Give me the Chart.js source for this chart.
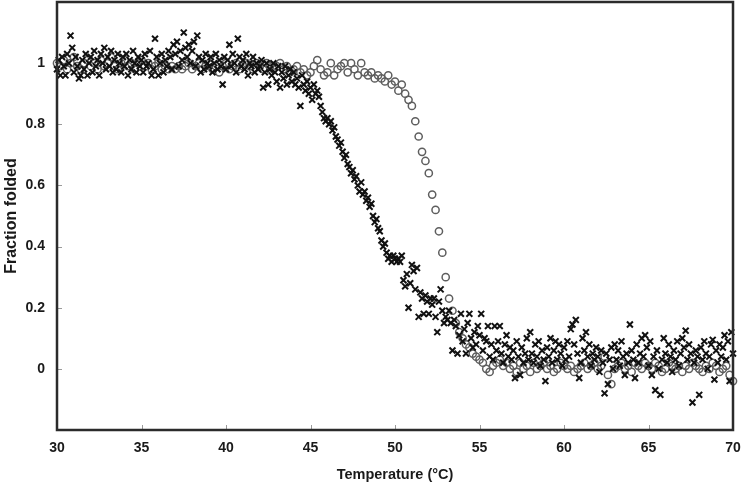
<!DOCTYPE html>
<html><head><meta charset="utf-8">
<script src="https://cdn.jsdelivr.net/npm/chart.js@4.4.1/dist/chart.umd.min.js"></script>
<style>html,body{margin:0;padding:0;background:#fff}canvas{display:block}</style>
</head><body>
<canvas id="c" width="742" height="482"></canvas>
<script>
const xTickValues = [30,35,40,45,50,55,60,65,70];
const yTickValues = [0,0.2,0.4,0.6,0.8,1];

const circleTemps = [
30,30.2,30.4,30.6,30.8,31,31.2,31.4,31.6,31.8,
32,32.2,32.4,32.6,32.8,33,33.2,33.4,33.6,33.8,
34,34.2,34.4,34.6,34.8,35,35.2,35.4,35.6,35.8,
36,36.2,36.4,36.6,36.8,37,37.2,37.4,37.6,37.8,
38,38.2,38.4,38.6,38.8,39,39.2,39.4,39.6,39.8,
40,40.2,40.4,40.6,40.8,41,41.2,41.4,41.6,41.8,
42,42.2,42.4,42.6,42.8,43,43.2,43.4,43.6,43.8,
44,44.2,44.4,44.6,44.8,45,45.2,45.4,45.6,45.8,
46,46.2,46.4,46.6,46.8,47,47.2,47.4,47.6,47.8,
48,48.2,48.4,48.6,48.8,49,49.2,49.4,49.6,49.8,
50,50.2,50.4,50.6,50.8,51,51.2,51.4,51.6,51.8,
52,52.2,52.4,52.6,52.8,53,53.2,53.4,53.6,53.8,
54,54.2,54.4,54.6,54.8,55,55.2,55.4,55.6,55.8,
56,56.2,56.4,56.6,56.8,57,57.2,57.4,57.6,57.8,
58,58.2,58.4,58.6,58.8,59,59.2,59.4,59.6,59.8,
60,60.2,60.4,60.6,60.8,61,61.2,61.4,61.6,61.8,
62,62.2,62.4,62.6,62.8,63,63.2,63.4,63.6,63.8,
64,64.2,64.4,64.6,64.8,65,65.2,65.4,65.6,65.8,
66,66.2,66.4,66.6,66.8,67,67.2,67.4,67.6,67.8,
68,68.2,68.4,68.6,68.8,69,69.2,69.4,69.6,69.8,
70];

const circleFolded = [
1.00,0.99,1.01,0.98,1.00,1.02,0.99,0.98,1.00,1.01,
0.99,1.00,0.98,1.01,0.99,1.00,1.02,0.99,0.98,1.00,
1.01,0.99,1.00,0.98,1.00,1.01,0.99,1.00,0.98,0.99,
1.00,0.98,0.99,0.98,0.99,0.98,0.99,0.98,0.99,1.00,
0.98,0.99,1.00,0.98,0.99,1.00,0.98,0.99,0.97,0.99,
1.00,0.98,0.99,1.00,0.98,0.99,1.00,0.99,0.98,1.00,
0.99,0.98,1.00,0.99,0.98,0.99,1.00,0.98,0.99,0.97,
0.98,0.99,0.97,0.98,0.96,0.97,0.99,1.01,0.98,0.96,
0.97,1.00,0.96,0.98,0.99,1.00,0.97,1.00,0.98,0.96,
1.00,0.97,0.96,0.97,0.95,0.96,0.95,0.94,0.96,0.93,
0.94,0.91,0.93,0.90,0.88,0.86,0.81,0.76,0.71,0.68,
0.64,0.57,0.52,0.45,0.38,0.30,0.23,0.19,0.15,0.12,
0.10,0.08,0.07,0.05,0.04,0.03,0.02,0.00,-0.01,0.01,
0.02,0.03,0.01,0.02,0.00,0.01,-0.01,0.02,0.00,0.01,
-0.01,0.02,0.00,0.01,0.02,0.00,0.01,-0.01,0.00,0.02,
0.01,0.00,0.01,-0.01,0.00,0.01,0.02,0.00,0.01,0.02,
0.00,0.01,0.04,-0.02,-0.05,0.00,0.01,0.02,0.00,0.01,
-0.01,0.02,0.01,0.00,0.02,0.01,0.00,0.02,0.01,-0.01,
0.00,0.02,0.01,0.00,0.01,-0.01,0.01,0.00,0.02,0.01,
0.00,-0.01,0.01,0.00,0.02,0.01,-0.01,0.00,0.01,-0.02,
-0.04];

const crossTemps = [
30,30.1,30.2,30.3,30.4,30.5,30.6,30.7,30.8,30.9,
31,31.1,31.2,31.3,31.4,31.5,31.6,31.7,31.8,31.9,
32,32.1,32.2,32.3,32.4,32.5,32.6,32.7,32.8,32.9,
33,33.1,33.2,33.3,33.4,33.5,33.6,33.7,33.8,33.9,
34,34.1,34.2,34.3,34.4,34.5,34.6,34.7,34.8,34.9,
35,35.1,35.2,35.3,35.4,35.5,35.6,35.7,35.8,35.9,
36,36.1,36.2,36.3,36.4,36.5,36.6,36.7,36.8,36.9,
37,37.1,37.2,37.3,37.4,37.5,37.6,37.7,37.8,37.9,
38,38.1,38.2,38.3,38.4,38.5,38.6,38.7,38.8,38.9,
39,39.1,39.2,39.3,39.4,39.5,39.6,39.7,39.8,39.9,
40,40.1,40.2,40.3,40.4,40.5,40.6,40.7,40.8,40.9,
41,41.1,41.2,41.3,41.4,41.5,41.6,41.7,41.8,41.9,
42,42.1,42.2,42.3,42.4,42.5,42.6,42.7,42.8,42.9,
43,43.1,43.2,43.3,43.4,43.5,43.6,43.7,43.8,43.9,
44,44.1,44.2,44.3,44.4,44.5,44.6,44.7,44.8,44.9,
45,45.1,45.2,45.3,45.4,45.5,45.6,45.7,45.8,45.9,
46,46.1,46.2,46.3,46.4,46.5,46.6,46.7,46.8,46.9,
47,47.1,47.2,47.3,47.4,47.5,47.6,47.7,47.8,47.9,
48,48.1,48.2,48.3,48.4,48.5,48.6,48.7,48.8,48.9,
49,49.1,49.2,49.3,49.4,49.5,49.6,49.7,49.8,49.9,
50,50.1,50.2,50.3,50.4,50.5,50.6,50.7,50.8,50.9,
51,51.1,51.2,51.3,51.4,51.5,51.6,51.7,51.8,51.9,
52,52.1,52.2,52.3,52.4,52.5,52.6,52.7,52.8,52.9,
53,53.1,53.2,53.3,53.4,53.5,53.6,53.7,53.8,53.9,
54,54.1,54.2,54.3,54.4,54.5,54.6,54.7,54.8,54.9,
55,55.1,55.2,55.3,55.4,55.5,55.6,55.7,55.8,55.9,
56,56.1,56.2,56.3,56.4,56.5,56.6,56.7,56.8,56.9,
57,57.1,57.2,57.3,57.4,57.5,57.6,57.7,57.8,57.9,
58,58.1,58.2,58.3,58.4,58.5,58.6,58.7,58.8,58.9,
59,59.1,59.2,59.3,59.4,59.5,59.6,59.7,59.8,59.9,
60,60.1,60.2,60.3,60.4,60.5,60.6,60.7,60.8,60.9,
61,61.1,61.2,61.3,61.4,61.5,61.6,61.7,61.8,61.9,
62,62.1,62.2,62.3,62.4,62.5,62.6,62.7,62.8,62.9,
63,63.1,63.2,63.3,63.4,63.5,63.6,63.7,63.8,63.9,
64,64.1,64.2,64.3,64.4,64.5,64.6,64.7,64.8,64.9,
65,65.1,65.2,65.3,65.4,65.5,65.6,65.7,65.8,65.9,
66,66.1,66.2,66.3,66.4,66.5,66.6,66.7,66.8,66.9,
67,67.1,67.2,67.3,67.4,67.5,67.6,67.7,67.8,67.9,
68,68.1,68.2,68.3,68.4,68.5,68.6,68.7,68.8,68.9,
69,69.1,69.2,69.3,69.4,69.5,69.6,69.7,69.8,69.9,
70];

const crossFolded = [
0.98,1.01,0.96,1.02,0.99,0.96,1.03,1.00,1.09,1.05,
0.97,1.02,0.99,0.95,0.96,1.01,0.98,1.03,0.96,1.00,
1.02,0.97,1.04,0.99,1.01,0.96,1.03,1.00,1.05,0.98,
1.02,0.99,1.04,0.97,1.01,0.98,1.03,1.00,0.97,1.02,
0.99,1.03,0.96,1.01,0.98,1.04,1.00,0.97,1.02,0.99,
1.01,0.97,1.03,0.99,1.00,1.04,0.96,0.98,1.08,1.02,
0.96,1.00,1.03,0.97,1.01,0.99,1.04,1.02,0.98,1.06,
1.03,1.07,0.99,1.04,1.01,1.10,1.05,1.02,1.06,1.00,
1.04,1.07,0.99,1.09,1.02,0.97,1.01,0.98,1.03,1.00,
0.99,1.02,0.97,1.00,1.03,0.98,1.01,0.99,0.93,1.02,
0.98,1.01,1.06,0.99,1.03,1.00,0.97,1.08,1.02,0.99,
1.01,0.98,1.03,0.96,1.00,0.99,1.02,0.97,1.00,0.98,
0.99,1.01,0.92,0.97,1.00,0.93,0.98,0.96,1.00,0.97,
0.94,0.99,0.92,0.97,0.95,0.99,0.93,0.96,0.98,0.94,
0.97,0.93,0.95,0.92,0.86,0.96,0.93,0.91,0.94,0.90,
0.92,0.88,0.93,0.90,0.91,0.89,0.86,0.84,0.82,0.81,
0.82,0.80,0.81,0.78,0.79,0.76,0.75,0.73,0.74,0.71,
0.69,0.70,0.67,0.66,0.64,0.65,0.62,0.63,0.60,0.58,
0.61,0.57,0.58,0.55,0.56,0.53,0.54,0.50,0.48,0.49,
0.46,0.45,0.42,0.40,0.41,0.38,0.36,0.37,0.35,0.37,
0.36,0.35,0.36,0.35,0.37,0.29,0.27,0.31,0.20,0.28,
0.34,0.32,0.26,0.33,0.17,0.25,0.23,0.18,0.24,0.22,
0.18,0.23,0.21,0.23,0.17,0.12,0.22,0.26,0.19,0.15,
0.17,0.16,0.19,0.15,0.06,0.16,0.14,0.05,0.11,0.18,
0.09,0.13,0.05,0.15,0.18,0.10,0.07,0.12,0.08,0.14,
0.11,0.18,0.06,0.10,0.09,0.14,0.04,0.08,0.03,0.14,
0.06,0.09,0.14,0.05,0.02,0.08,0.11,0.04,0.07,0.03,
0.06,-0.03,0.09,0.04,-0.02,0.07,0.02,0.05,0.10,0.03,
0.12,0.05,0.02,0.08,0.04,0.09,0.01,0.06,0.03,-0.04,
0.07,0.04,0.10,0.02,0.06,0.09,0.03,0.08,0.05,0.01,
0.07,0.03,0.09,0.04,0.13,0.145,0.08,0.16,0.05,-0.03,
0.02,0.10,0.06,0.12,0.04,0.08,0.01,0.05,0.03,0.07,
0.04,-0.01,0.06,0.02,-0.08,0.05,-0.05,0.03,0.07,0.00,
0.08,0.03,0.06,0.01,0.09,0.04,-0.02,0.05,0.02,0.145,
0.06,0.03,-0.03,0.08,0.02,0.05,0.10,0.04,0.11,0.07,
0.01,0.09,-0.02,0.04,-0.07,0.06,0.00,-0.085,0.03,0.10,
0.05,0.02,0.08,0.04,-0.01,0.06,0.03,0.09,0.01,0.05,
0.10,0.07,0.125,0.03,0.08,0.05,-0.11,0.02,0.06,0.04,
-0.085,0.07,0.03,0.09,0.05,0.00,0.04,0.08,0.095,-0.035,
0.06,0.02,0.08,0.04,0.07,0.11,0.03,0.09,-0.04,0.12,
0.05];

const FONT = '"Liberation Sans", Arial, Helvetica, sans-serif';
const TXT = '#1a1a1a';

function zeroPad(s) { s.paddingTop = 0; s.paddingBottom = 0; s.paddingLeft = 0; s.paddingRight = 0; }

const frame = {
  id: 'frame',
  beforeDatasetsDraw(chart) {
    const {ctx, chartArea: a, scales: {x, y}} = chart;
    ctx.save();
    ctx.strokeStyle = '#9a9a9a';
    ctx.lineWidth = 1;
    ctx.beginPath();
    x.ticks.forEach(t => {
      if (t.value > x.min && t.value < x.max) {
        const px = Math.round(x.getPixelForValue(t.value)) + 0.5;
        ctx.moveTo(px, a.bottom); ctx.lineTo(px, a.bottom - 5);
      }
    });
    y.ticks.forEach(t => {
      const py = Math.round(y.getPixelForValue(t.value)) + 0.5;
      ctx.moveTo(a.left, py); ctx.lineTo(a.left + 5, py);
    });
    ctx.stroke();
    ctx.restore();
  },
  afterDatasetsDraw(chart) {
    const {ctx, chartArea: a} = chart;
    ctx.save();
    ctx.strokeStyle = '#2b2b2b';
    ctx.lineWidth = 2.5;
    ctx.strokeRect(a.left, a.top, a.right - a.left, a.bottom - a.top);
    ctx.restore();
  }
};

new Chart(document.getElementById('c'), {
  type: 'scatter',
  data: {
    datasets: [
      {
        label: 'crosses',
        data: crossTemps.map((t, i) => ({x: t, y: crossFolded[i]})),
        pointStyle: 'crossRot',
        pointRadius: 4.2,
        pointBorderWidth: 2,
        pointBorderColor: '#111111',
        pointBackgroundColor: '#111111',
        order: 0,
        clip: 6
      },
      {
        label: 'circles',
        data: circleTemps.map((t, i) => ({x: t, y: circleFolded[i]})),
        pointStyle: 'circle',
        pointRadius: 3.6,
        pointBorderWidth: 1.5,
        pointBorderColor: '#5e5e5e',
        pointBackgroundColor: 'rgba(255,255,255,0)',
        order: 1,
        clip: 6
      }
    ]
  },
  options: {
    responsive: false,
    animation: false,
    events: [],
    layout: {autoPadding: false, padding: {top: 2, right: 9, left: 0, bottom: 0}},
    plugins: {legend: {display: false}, tooltip: {enabled: false}},
    scales: {
      x: {
        type: 'linear',
        min: 30, max: 70,
        afterBuildTicks: s => { s.ticks = xTickValues.map(v => ({value: v})); },
        afterFit: s => { s.height = 52; zeroPad(s); },
        grid: {display: false, drawTicks: false},
        border: {display: false},
        ticks: {padding: 10, color: TXT, font: {family: FONT, size: 14, weight: 'bold'}},
        title: {display: true, text: 'Temperature (°C)', color: TXT,
                font: {family: FONT, size: 14.5, weight: 'bold', lineHeight: 1.0}, padding: {top: 0, bottom: 0}}
      },
      y: {
        min: -0.2, max: 1.2,
        afterBuildTicks: s => { s.ticks = yTickValues.map(v => ({value: v})); },
        afterFit: s => { s.width = 57; zeroPad(s); },
        grid: {display: false, drawTicks: false},
        border: {display: false},
        ticks: {padding: 12, color: TXT, font: {family: FONT, size: 14, weight: 'bold'},
                callback: v => String(v)},
        title: {display: true, text: 'Fraction folded', color: TXT,
                font: {family: FONT, size: 16, weight: 'bold'}, padding: {top: 2, bottom: 0}}
      }
    }
  },
  plugins: [frame]
});
</script>
</body></html>
